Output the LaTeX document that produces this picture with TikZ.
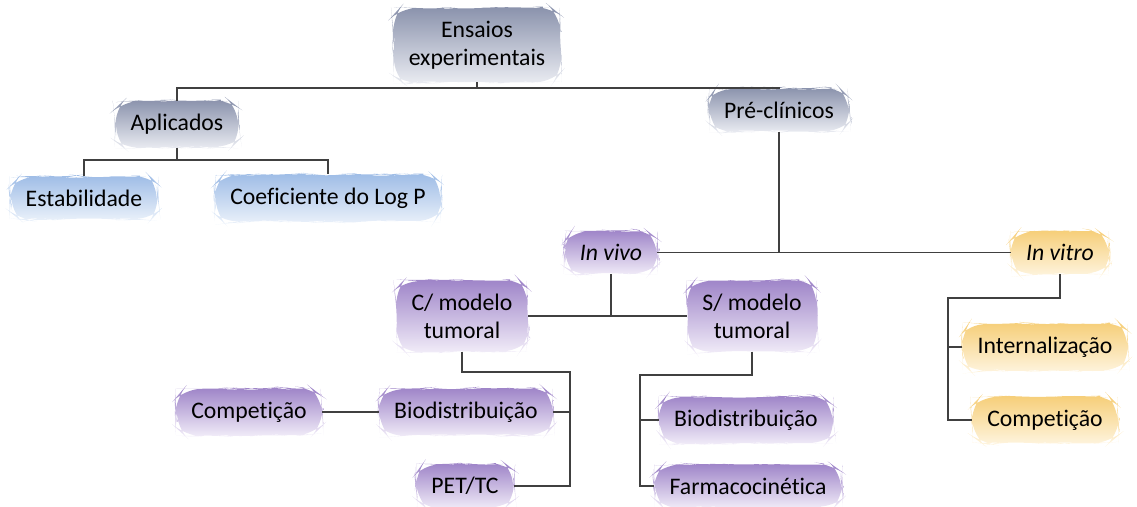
\documentclass[tikz,border=0pt]{standalone}
\usepackage{fontspec}
\setmainfont[Ligatures=NoCommon]{Carlito}
\usetikzlibrary{positioning, decorations.pathmorphing}

\definecolor{slatetop}{RGB}{138,146,172}
\definecolor{slatebot}{RGB}{234,236,242}
\definecolor{bluetop}{RGB}{158,188,230}
\definecolor{bluebot}{RGB}{234,241,250}
\definecolor{purpletop}{RGB}{158,132,200}
\definecolor{purplebot}{RGB}{241,236,248}
\definecolor{yellowtop}{RGB}{246,206,120}
\definecolor{yellowbot}{RGB}{254,244,222}

\begin{document}
\pgfmathsetseed{11}
\begin{tikzpicture}[
  link/.style={draw=black!75, line width=0.8pt},
  blob/.style={rectangle, rounded corners=10pt, inner xsep=0.3cm, inner ysep=0.26cm, align=center,
    font=\fontsize{13.5}{16}\selectfont, decorate,
    decoration={random steps, segment length=6pt, amplitude=0.6pt}},
  slate_box/.style={blob, top color=slatetop, bottom color=slatebot},
  blue_box/.style={blob, top color=bluetop, bottom color=bluebot},
  purple_box/.style={blob, top color=purpletop, bottom color=purplebot},
  yellow_box/.style={blob, top color=yellowtop, bottom color=yellowbot}
]
  \useasboundingbox (0,0) rectangle (22.74,10.12);

  % Root and first level
  \node (ensaios) [slate_box] at (9.54, 9.22) {Ensaios\\experimentais};
  \node (aplic) [slate_box] at (3.54, 7.64) {Aplicados};
  \node (preclin) [slate_box] at (15.58, 7.92) {Pré-clínicos};

  % Aplicados
  \node (estab) [blue_box] at (1.68, 6.16) {Estabilidade};
  \node (logp) [blue_box] at (6.56, 6.16) {Coeficiente do Log P};

  % Pre-clinicos
  \node (invivo) [purple_box] at (12.22, 5.07) {\textit{In vivo}};
  \node (invitro) [yellow_box] at (21.2, 5.07) {\textit{In vitro}};

  % In vivo
  \node (ctumor) [purple_box] at (9.24, 3.8) {C/ modelo\\tumoral};
  \node (stumor) [purple_box] at (15.04, 3.8) {S/ modelo\\tumoral};
  \node (biodc) [purple_box] at (9.32, 1.88) {Biodistribuição};
  \node (compc) [purple_box] at (4.98, 1.88) {Competição};
  \node (petct) [purple_box] at (9.3, 0.4) {PET/TC};
  \node (biods) [purple_box] at (14.92, 1.72) {Biodistribuição};
  \node (farma) [purple_box] at (14.96, 0.4) {Farmacocinética};

  % In vitro
  \node (intern) [yellow_box] at (20.9, 3.18) {Internalização};
  \node (compv) [yellow_box] at (20.9, 1.72) {Competição};

  % Bus points
  \coordinate (topbus) at (9.54, 8.36);
  \coordinate (aplbus) at (3.54, 6.92);
  \coordinate (prebus) at (15.58, 5.07);
  \coordinate (vivobus) at (12.22, 3.8);
  \coordinate (cbus) at (11.4, 2.68);
  \coordinate (sbus) at (12.8, 2.62);
  \coordinate (vitrobus) at (18.96, 4.16);

  % Connections
  \draw[link] (ensaios.south) -- (topbus);
  \draw[link] (aplic.north) |- (topbus) -| (preclin.north);
  \draw[link] (aplic.south) -- (aplbus);
  \draw[link] (estab.north) |- (aplbus) -| (logp.north);
  \draw[link] (preclin.south) -- (prebus);
  \draw[link] (invivo.east) -- (invitro.west);
  \draw[link] (invivo.south) -- (vivobus);
  \draw[link] (ctumor.east) -- (stumor.west);
  \draw[link] (ctumor.south) |- (cbus) |- (petct.east);
  \draw[link] (biodc.east) -- (biodc.east -| cbus);
  \draw[link] (compc.east) -- (biodc.west);
  \draw[link] (stumor.south) |- (sbus) |- (farma.west);
  \draw[link] (biods.west) -- (biods.west -| sbus);
  \draw[link] (invitro.south) |- (vitrobus) |- (compv.west);
  \draw[link] (intern.west) -- (intern.west -| vitrobus);

\end{tikzpicture}
\end{document}
